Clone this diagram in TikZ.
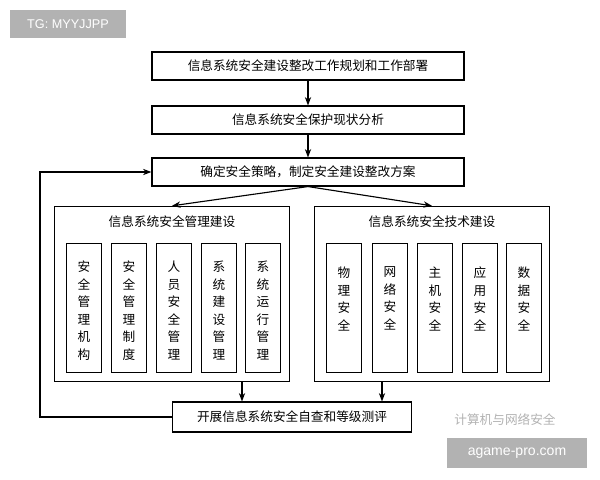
\documentclass[tikz,border=0pt]{standalone}
\usepackage{fontspec}
\setmainfont{Liberation Sans}
\newfontfamily\cjk{Noto Sans CJK SC}
\usetikzlibrary{arrows.meta}

\begin{document}
\begin{tikzpicture}[x=0.025cm,y=-0.025cm,
  font=\cjk\fontsize{9}{11}\selectfont,
  box/.style={draw,thick,minimum height=0.7cm},
  col/.style={draw,thick,minimum width=0.88cm,minimum height=3.22cm,anchor=north},
  vtext/.style={anchor=north,align=center,font=\cjk\fontsize{9}{12.5}\selectfont},
  arr/.style={-{Stealth[length=6pt]},thick}]
\useasboundingbox (0,0) rectangle (600,480);
% watermarks
\node[fill=gray!60,text=white,font=\fontsize{9}{11}\selectfont,minimum width=2.9cm,minimum height=0.7cm] (tg) at (68,24) {TG: MYYJJPP};
\node[fill=gray!60,text=white,font=\fontsize{10}{12}\selectfont,minimum width=3.5cm,minimum height=0.75cm] (site) at (517,453) {agame-pro.com};
\node[text=gray!60] (wm) at (505,420) {计算机与网络安全};
% main flow
\node[box,minimum width=7.8cm] (plan) at (308,66) {信息系统安全建设整改工作规划和工作部署};
\node[box,minimum width=7.8cm] (stat) at (308,120) {信息系统安全保护现状分析};
\node[box,minimum width=7.8cm] (strat) at (308,172) {确定安全策略，制定安全建设整改方案};
\node[draw,thick,minimum width=5.88cm,minimum height=4.38cm] (mgmt) at (172,294) {};
\node[draw,thick,minimum width=5.88cm,minimum height=4.38cm] (tech) at (432,294) {};
\node (mgmtt) at (172,222) {信息系统安全管理建设};
\node (techt) at (432,222) {信息系统安全技术建设};
\node[box,minimum width=5.98cm,minimum height=0.75cm] (eval) at (292,417) {开展信息系统安全自查和等级测评};
% columns
\foreach \x/\t/\n in {84/安\\全\\管\\理\\机\\构/m1,129/安\\全\\管\\理\\制\\度/m2,174/人\\员\\安\\全\\管\\理/m3,219/系\\统\\建\\设\\管\\理/m4,263/系\\统\\运\\行\\管\\理/m5}{
  \node[col] (\n) at (\x,243) {};
  \node[vtext] at (\x,256) {\t};
}
\foreach \x/\t/\n in {344/物\\理\\安\\全/t1,390/网\\络\\安\\全/t2,435/主\\机\\安\\全/t3,480/应\\用\\安\\全/t4,524/数\\据\\安\\全/t5}{
  \node[col] (\n) at (\x,243) {};
  \node[vtext] at (\x,262) {\t};
}
% connectors
\draw[arr] (strat.south) -- (mgmt.north);
\draw[arr] (plan) -- (stat);
\draw[arr] (stat) -- (strat);
\draw[arr] (strat.south) -- (tech.north);
\draw[arr] (mgmt.south -| eval.north) ++(-50,0) coordinate (a) -- (a |- eval.north);
\draw[arr] (tech.south) ++(-50,0) coordinate (b) -- (b |- eval.north);
\draw[arr] (eval.west) -| (40,172) -- (strat.west);
\end{tikzpicture}
\end{document}
